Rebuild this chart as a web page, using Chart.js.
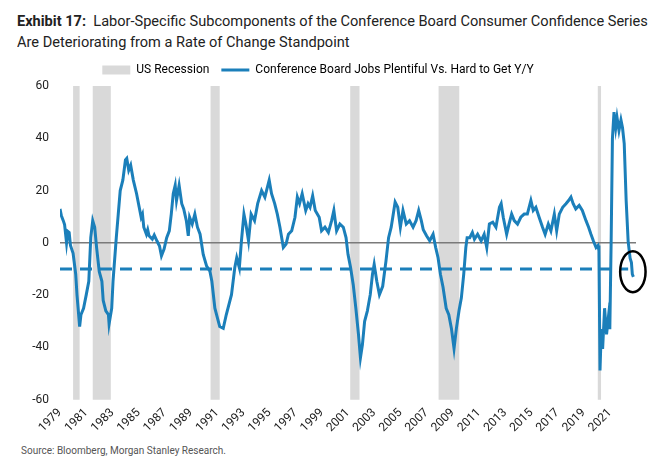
<!DOCTYPE html>
<html>
<head>
<meta charset="utf-8">
<script src="https://cdn.jsdelivr.net/npm/chart.js@4.4.1/dist/chart.umd.min.js"></script>
<style>
  body { margin: 0; background: #fff; font-family: Roboto, "Liberation Sans", sans-serif; }
  #title { position: absolute; left: 17px; top: 11px; font-size: 15.5px; line-height: 21px; color: #222; white-space: nowrap;
           transform: scaleX(0.94); transform-origin: left top; }
  #title b { font-weight: 700; }
  #wrap { position: absolute; left: 0; top: 48px; width: 657px; height: 395px; }
  #source { position: absolute; left: 21px; top: 445px; font-size: 10px; color: #555; }
</style>
</head>
<body>
<div id="title"><b>Exhibit 17:</b>&nbsp; Labor-Specific Subcomponents of the Conference Board Consumer Confidence Series<br>Are Deteriorating from a Rate of Change Standpoint</div>
<div id="wrap"><canvas id="chart" width="657" height="395"></canvas></div>
<div id="source">Source: Bloomberg, Morgan Stanley Research.</div>
<script>
// Conference Board jobs plentiful vs hard to get, y/y change, [year, value]
const jobsYoY = [
  [1979.0, 13], [1979.1, 10.5], [1979.25, 8.5], [1979.35, 7], [1979.5, 0], [1979.6, 4.4], [1979.7, 4], [1979.8, -1],
  [1980.0, -4], [1980.2, -12], [1980.3, -20], [1980.5, -32], [1980.6, -27.5], [1980.8, -25],
  [1981.0, -20], [1981.2, -14.7], [1981.35, 2], [1981.5, 8.5], [1981.65, 6], [1981.8, -2],
  [1982.0, -11], [1982.2, -14.7], [1982.3, -22], [1982.5, -26], [1982.7, -27.5], [1982.75, -31], [1982.95, -25],
  [1983.05, -14.7], [1983.3, 2], [1983.45, 11], [1983.6, 20], [1983.8, 24],
  [1984.0, 31.7], [1984.1, 32.3], [1984.25, 27.8], [1984.4, 29.7], [1984.6, 24], [1984.85, 18.8],
  [1985.05, 13.6], [1985.2, 9.8], [1985.3, 11], [1985.4, 6], [1985.6, 3.3], [1985.7, 5], [1985.8, 2.7],
  [1986.05, 1.4], [1986.2, 3], [1986.4, 0.8], [1986.6, -1.2], [1986.75, -5], [1986.95, -2.4],
  [1987.15, 2], [1987.35, 4.6], [1987.5, 11], [1987.65, 18.8], [1987.8, 22], [1987.9, 16.2],
  [1988.1, 22], [1988.3, 15], [1988.45, 13], [1988.65, 8.5], [1988.8, 2.7], [1988.9, 9.8],
  [1989.1, 7.2], [1989.3, 11], [1989.5, 6], [1989.7, 3.3], [1989.94, -4.4],
  [1990.2, -8.9], [1990.45, -10.8], [1990.6, -14.7], [1990.83, -25],
  [1991.2, -32], [1991.47, -32.7], [1991.7, -27.5],
  [1992.1, -19.8], [1992.35, -9.5], [1992.5, -5.7], [1992.7, -9.5], [1992.86, 0.8],
  [1993.05, 11], [1993.2, 7.2], [1993.4, 0.8], [1993.6, 11], [1993.86, 8.5],
  [1994.1, 15], [1994.4, 20], [1994.65, 17.5], [1994.98, 24],
  [1995.16, 18.8], [1995.4, 15], [1995.6, 11], [1995.8, 6],
  [1996.06, -1.8], [1996.27, -0.5], [1996.45, 3.3], [1996.7, 4.6], [1996.95, 9.8],
  [1997.13, 17.5], [1997.3, 15], [1997.5, 18.8], [1997.77, 12.4], [1997.95, 15],
  [1998.1, 13.6], [1998.3, 18], [1998.5, 12.4], [1998.8, 9.8], [1998.98, 4.6],
  [1999.24, 6], [1999.5, 4], [1999.75, 8.5], [1999.92, 12.4],
  [2000.13, 4.6], [2000.38, 7.2], [2000.64, 6], [2000.85, 2],
  [2001.0, -4.4], [2001.2, -9.5], [2001.4, -16], [2001.6, -25], [2001.8, -35], [2001.95, -44],
  [2002.1, -39], [2002.27, -30], [2002.48, -26], [2002.7, -19.8], [2002.87, -12],
  [2003.0, -8.2], [2003.2, -14.7], [2003.4, -19.8], [2003.65, -16.6], [2003.9, -7],
  [2004.1, 2], [2004.3, 6], [2004.42, 9.8], [2004.6, 15.6], [2004.8, 13.6],
  [2005.0, 6], [2005.2, 12.4], [2005.45, 7.2], [2005.7, 8.5], [2005.97, 6],
  [2006.2, 8.5], [2006.4, 12.4], [2006.6, 8.5], [2006.75, 5],
  [2007.0, 2.7], [2007.24, 0.8], [2007.5, 3.3], [2007.7, -1.8], [2007.88, -5.7],
  [2008.06, -12], [2008.26, -17], [2008.5, -25], [2008.7, -27.5], [2008.9, -32.7],
  [2009.1, -40.4], [2009.28, -32.7], [2009.48, -26], [2009.66, -21], [2009.84, -12],
  [2010.0, -1.8], [2010.1, 2], [2010.3, 2], [2010.5, 4], [2010.66, 1.4], [2010.9, 3.3],
  [2011.17, 0.8], [2011.4, 3.3], [2011.6, -1.8], [2011.8, 7.2],
  [2012.06, 7.9], [2012.3, 6], [2012.57, 13.6], [2012.7, 15], [2012.86, 9.8],
  [2013.12, 3.3], [2013.3, 7.2], [2013.5, 11], [2013.7, 8.5], [2013.95, 7.2],
  [2014.2, 9.8], [2014.46, 11], [2014.7, 11], [2014.97, 16.2],
  [2015.15, 12.4], [2015.35, 13.6], [2015.6, 9.8], [2015.86, 6],
  [2016.06, 3.3], [2016.3, 7.2], [2016.5, 4.6], [2016.76, 11], [2016.94, 4.6],
  [2017.14, 11], [2017.4, 13.6], [2017.65, 15], [2017.85, 16.2],
  [2018.03, 17.5], [2018.2, 15], [2018.4, 13], [2018.66, 14.3], [2018.9, 12.4],
  [2019.18, 8.5], [2019.38, 6], [2019.56, 3.3], [2019.74, 0.8], [2019.95, -1.8],
  [2020.1, -1], [2020.17, -3], [2020.25, -48.8], [2020.35, -33], [2020.45, -40.6],
  [2020.6, -25], [2020.75, -35], [2020.9, -28], [2021.0, -33],
  [2021.1, 0], [2021.2, 40], [2021.32, 50], [2021.45, 44], [2021.55, 48], [2021.7, 43], [2021.85, 47],
  [2021.97, 44], [2022.1, 38], [2022.25, 16], [2022.4, 0.6], [2022.55, -5.9], [2022.65, -7.5],
  [2022.72, -12], [2022.8, -13]
];

// US recessions, [start, end] in years
const recessions = [
  [1980.0, 1980.5], [1981.5, 1982.88], [1990.5, 1991.2],
  [2001.17, 2001.88], [2007.92, 2009.5], [2020.08, 2020.33]
];

const thresholdLevel = -10;
const thresholdSpan = [1979, 2022.4];
const yearRange = [1979, 2023];
const yTicks = [-60, -40, -20, 0, 20, 40, 60];
const circleAt = [2022.76, -11];

const lineBlue = '#1b7fba';
const recessGrey = '#d9d9d9';

const recessionBands = {
  id: 'recessionBands',
  beforeDatasetsDraw(chart) {
    const { ctx, scales: { x, y } } = chart;
    const top = y.getPixelForValue(yTicks[yTicks.length - 1]);
    const bottom = y.getPixelForValue(yTicks[0]);
    ctx.save();
    ctx.fillStyle = recessGrey;
    recessions.forEach(([s, e]) => {
      const x1 = x.getPixelForValue(s);
      const x2 = x.getPixelForValue(e);
      ctx.fillRect(x1, top, x2 - x1, bottom - top);
    });
    ctx.restore();
  }
};

const endCircle = {
  id: 'endCircle',
  afterDatasetsDraw(chart) {
    const { ctx, scales: { x, y } } = chart;
    ctx.save();
    ctx.strokeStyle = '#000';
    ctx.lineWidth = 2.5;
    ctx.beginPath();
    ctx.ellipse(x.getPixelForValue(circleAt[0]), y.getPixelForValue(circleAt[1]), 12.7, 20.5, 0, 0, Math.PI * 2);
    ctx.stroke();
    ctx.restore();
  }
};

const ctx = document.getElementById('chart').getContext('2d');
new Chart(ctx, {
  type: 'line',
  data: {
    datasets: [
      {
        label: 'Conference Board Jobs Plentiful Vs. Hard to Get Y/Y',
        data: jobsYoY.map(([x, y]) => ({ x, y })),
        borderColor: lineBlue,
        borderWidth: 3,
        pointRadius: 0,
        tension: 0,
        order: 1
      },
      {
        label: 'zero',
        data: yearRange.map(x => ({ x, y: 0 })),
        borderColor: '#7a7a7a',
        borderWidth: 1.5,
        pointRadius: 0,
        order: 3
      },
      {
        label: 'threshold',
        data: thresholdSpan.map(x => ({ x, y: thresholdLevel })),
        borderColor: lineBlue,
        borderWidth: 3,
        borderDash: [12, 8],
        pointRadius: 0,
        order: 2
      }
    ]
  },
  options: {
    responsive: false,
    animation: false,
    layout: { padding: { top: 4, right: 21, left: 0, bottom: 2 } },
    plugins: {
      tooltip: { enabled: false },
      legend: {
        position: 'top',
        align: 'center',
        labels: {
          color: '#222',
          font: { family: 'Roboto', size: 12 },
          usePointStyle: true,
          pointStyleWidth: 28,
          boxHeight: 9,
          padding: 12,
          generateLabels: () => [
            { text: 'US Recession', pointStyle: 'rect', fillStyle: recessGrey, strokeStyle: recessGrey, lineWidth: 0, datasetIndex: -1 },
            { text: 'Conference Board Jobs Plentiful Vs. Hard to Get Y/Y', pointStyle: 'line', fillStyle: lineBlue, strokeStyle: lineBlue, lineWidth: 3, datasetIndex: 0 }
          ]
        }
      }
    },
    scales: {
      x: {
        type: 'linear',
        min: yearRange[0],
        max: yearRange[1],
        grid: { display: false, drawTicks: false },
        border: { display: false },
        afterBuildTicks: s => { s.ticks = s.ticks.filter(t => t.value <= 2021); },
        ticks: {
          stepSize: 2,
          autoSkip: false,
          minRotation: 45,
          maxRotation: 45,
          padding: 6,
          color: '#222',
          font: { family: 'Roboto', size: 12 },
          callback: v => String(v)
        }
      },
      y: {
        min: yTicks[0],
        max: yTicks[yTicks.length - 1],
        grid: { display: false, drawTicks: false },
        border: { display: false },
        afterFit: s => { s.width = 60; },
        afterBuildTicks: s => { s.ticks = yTicks.map(v => ({ value: v })); },
        ticks: {
          padding: 11,
          color: '#222',
          font: { family: 'Roboto', size: 12 }
        }
      }
    }
  },
  plugins: [recessionBands, endCircle]
});
</script>
</body>
</html>
